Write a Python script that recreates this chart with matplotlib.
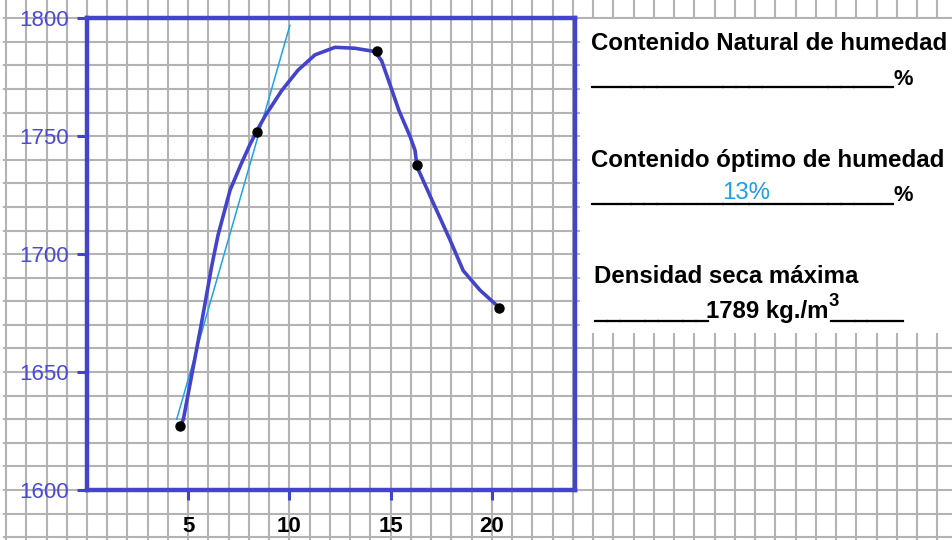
import matplotlib
matplotlib.use("Agg")
import matplotlib.pyplot as plt
import matplotlib.patheffects as pe
from matplotlib.patches import Rectangle

plt.rcParams['font.family'] = ['Liberation Sans', 'DejaVu Sans']

# datos
humedad = [4.6, 8.4, 14.3, 16.3, 20.35]
densidad = [1627, 1752, 1786, 1738, 1677]

curva_x = [4.6, 4.76, 5.09, 5.42, 5.66, 5.91, 6.16, 6.47, 7.06, 7.6, 8.05, 8.4,
           8.79, 9.61, 10.42, 11.26, 12.25, 13.23, 14.22, 14.55, 15.0, 15.4,
           15.95, 16.2, 16.3, 17.1, 17.93, 18.58, 19.4, 20.4]
curva_y = [1627, 1630, 1645, 1660, 1671, 1683, 1695, 1708, 1727, 1738, 1746.5, 1752.5,
           1758.5, 1769.3, 1778, 1784.5, 1787.7, 1787.3, 1785.9, 1782, 1771, 1761,
           1750, 1744, 1737, 1721.7, 1706, 1693, 1684.8, 1677]

tangente_x = [4.43, 10.02]
tangente_y = [1630, 1797]

xticks = [5, 10, 15, 20]
yticks = [1600, 1650, 1700, 1750, 1800]

txt_natural = "Contenido Natural de humedad"
txt_optimo = "Contenido óptimo de humedad"
val_optimo = "13%"
txt_densidad = "Densidad seca máxima"
val_densidad = "1789 kg./m"

W, H = 953, 540
AZUL = '#4343cc'
GRIS = '#b3b3b3'

fig = plt.figure(figsize=(W / 100, H / 100), dpi=100)
fig.patch.set_facecolor('white')


def P(x, y):
    return x / W, 1 - y / H


# ejes principales (pixeles)
x0, x1 = 87, 575
y0, y1 = 490, 18.3
xmax = 24.1
sx = (x1 - x0) / xmax
sy = (y0 - y1) / 200.0

# fondo de papel milimetrado con la misma escala
bg = fig.add_axes([0, 0, 1, 1], zorder=0)
bg.set_xlim(-x0 / sx, (W - x0) / sx)
bg.set_ylim(1600 - (H - y0) / sy, 1600 + y0 / sy)
bg.axis('off')
gx0 = -4.0
for k in range(-4, 43):
    bg.plot([k, k], [1500, 1900], color=GRIS, lw=1.5, zorder=1)
for v in range(1580, 1811, 10):
    bg.plot([gx0 - 0.1, 50], [v, v], color=GRIS, lw=1.5, zorder=1)
# caja blanca del texto
bx0, by0 = (580 - x0) / sx, 1600 + (y0 - 333) / sy
bx1, by1 = (W - x0) / sx + 1, 1600 + (y0 - 19.5) / sy
bg.add_patch(Rectangle((bx0, by0), bx1 - bx0, by1 - by0, facecolor='white',
                       edgecolor='none', zorder=2))

ax = fig.add_axes([x0 / W, 1 - y0 / H, (x1 - x0) / W, (y0 - y1) / H], zorder=3)
ax.patch.set_alpha(0)
ax.set_xlim(0, xmax)
ax.set_ylim(1600, 1800)
for s in ax.spines.values():
    s.set_color(AZUL)
    s.set_linewidth(3.2)

ax.plot(tangente_x, tangente_y, color='#1ea2e8', lw=1.1, zorder=3)
ax.plot(curva_x, curva_y, color=AZUL, lw=2.6, zorder=4,
        solid_joinstyle='round', solid_capstyle='round')
ax.plot(humedad, densidad, 'o', color='black', ms=6.5, zorder=5)

ax.set_xticks(xticks)
ax.set_yticks(yticks)
ax.tick_params(axis='y', direction='out', length=7, width=2.2, color=AZUL,
               labelcolor='#4a4ad4', labelsize=16, pad=6)
ax.tick_params(axis='x', direction='out', length=7, width=2.2, color=AZUL,
               labelcolor='black', labelsize=16, pad=12)
for lb in ax.get_xticklabels():
    lb.set_fontweight('bold')

# textos de la derecha
F = 17.3
grueso = [pe.withStroke(linewidth=0.9, foreground='black')]


def raya(x, y, n, size):
    fig.text(*P(x, y), "_" * n, fontsize=size, fontweight='bold',
             va='baseline', path_effects=grueso)


fig.text(*P(591, 50), txt_natural, fontsize=F, fontweight='bold', va='baseline')
raya(591, 84, 23, 17)
fig.text(*P(894, 85), "%", fontsize=F - 1.5, fontweight='bold', va='baseline')

fig.text(*P(591, 167), txt_optimo, fontsize=F, fontweight='bold', va='baseline')
fig.text(*P(722, 199), val_optimo, fontsize=F, color='#1e9fe6', va='baseline')
raya(591, 201, 23, 17)
fig.text(*P(894, 201), "%", fontsize=F - 1.5, fontweight='bold', va='baseline')

fig.text(*P(594, 283), txt_densidad, fontsize=F, fontweight='bold', va='baseline')
raya(594, 318, 9, 16.4)
fig.text(*P(706, 318), val_densidad, fontsize=F, fontweight='bold', va='baseline')
fig.text(*P(829, 306), "3", fontsize=F - 4, fontweight='bold', va='baseline')
raya(830, 318, 6, 15.8)

fig.savefig('out.png', dpi=100, facecolor='white')
